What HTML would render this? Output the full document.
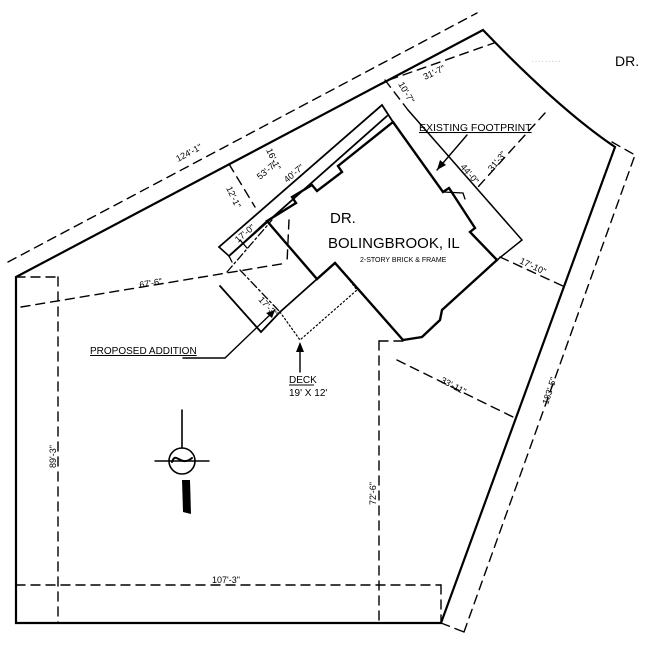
<!DOCTYPE html>
<html><head><meta charset="utf-8"><style>
html,body{margin:0;padding:0;background:#fff;}
svg{display:block;}
text{font-family:"Liberation Sans",sans-serif;fill:#000;}
</style></head><body>
<svg width="652" height="645" viewBox="0 0 652 645" xmlns="http://www.w3.org/2000/svg">
<g fill="none" stroke="#000" stroke-linecap="round">
<path d="M16,277 L483,30 Q560,110 615,147 L441,623 L16,623 Z" stroke-width="2.2"/>
<g stroke-width="1.4" stroke-dasharray="9,6">
<line x1="8" y1="262" x2="477" y2="13"/>
<line x1="21" y1="307" x2="287" y2="263"/>
<line x1="16" y1="277" x2="58" y2="277"/>
<line x1="58" y1="277" x2="58" y2="623"/>
<line x1="16" y1="585" x2="441" y2="585"/>
<line x1="441" y1="585" x2="441" y2="623"/>
<line x1="379" y1="341" x2="379" y2="623"/>
<line x1="379" y1="341" x2="405" y2="341"/>
<line x1="397" y1="360" x2="515" y2="418"/>
<line x1="464" y1="632" x2="635" y2="155"/>
<line x1="612" y1="142" x2="635" y2="155"/>
<line x1="441" y1="623" x2="464" y2="632"/>
<line x1="389" y1="80" x2="494" y2="43"/>
<line x1="545" y1="113" x2="477" y2="188"/>
<line x1="500" y1="257" x2="565" y2="287"/>
<line x1="289" y1="220" x2="287" y2="263"/>
<line x1="229" y1="164" x2="255" y2="207"/>
<line x1="385" y1="80" x2="408" y2="110"/>
</g>
<path d="M393,122 L443,192 L449,188 L475,228 L470,232 L497,260 L442,310 L440,320 L422,337 L403,340 L335,263 L317,279 L279,235 L267,221 L296,203 L292,197 L312,185 L317,191 L342,172 L338,166 L393,122" stroke-width="2.4"/>
<path d="M408,110 L522,240 L497,260" stroke-width="1.5"/>
<path d="M443,192 L463,193 L465,199" stroke-width="1.3"/>
<path d="M219,247 L382,105 L393,122" stroke-width="1.8"/>
<path d="M229,256 L387,116" stroke-width="1.8"/>
<path d="M219,247 L229,256 L267,221" stroke-width="1.6"/>
<path d="M229,256 L232,262 M240,240 L247,248" stroke-width="1.3"/>
<path d="M220,286 L261,332 L280,312" stroke-width="1.8"/>
<path d="M280,312 L317,279" stroke-width="1.8"/>
<path d="M227,272 L272,220 M240,270 L280,312" stroke-width="1.3" stroke-dasharray="8,3,2,3"/>
<path d="M280,312 L300,340 L357,290 L347,277" stroke-width="1.2" stroke-dasharray="1.5,2.5"/>
<path d="M183,358 L225,358 L275,310" stroke-width="1.4"/>
<path d="M300,372 L300,344" stroke-width="1.4"/>
<path d="M467,135 L437,170" stroke-width="1.4"/>
<circle cx="182" cy="461" r="13" stroke-width="1.6"/>
<line x1="155" y1="461" x2="209" y2="461" stroke-width="1.4"/>
<line x1="182" y1="410" x2="182" y2="448" stroke-width="1.6"/>
<path d="M172,462 C176,450 180,468 192,458" stroke-width="2"/>
</g>
<g fill="#000">
<polygon points="275,310 266,313 272,318"/>
<polygon points="300,342 296,352 304,352"/>
<polygon points="437,170 440,160 446,165"/>
<polygon points="182,480 190,480 191,514 183,512"/>
</g>
<g font-size="9">
<text transform="translate(178,162) rotate(-28)">124'-1"</text>
<text transform="translate(140,288) rotate(-10)">67'-6"</text>
<text transform="translate(260,180) rotate(-40)">53'-7"</text>
<text transform="translate(287,183) rotate(-40)">40'-7"</text>
<text transform="translate(238,243) rotate(-40)">17'-0"</text>
<text transform="translate(258,300) rotate(48)">17'-3"</text>
<text transform="translate(226,188) rotate(65)">12'-1"</text>
<text transform="translate(266,150) rotate(65)">16'-1"</text>
<text transform="translate(398,84) rotate(60)">10'-7"</text>
<text transform="translate(425,80) rotate(-25)">31'-7"</text>
<text transform="translate(460,167) rotate(50)">44'-0"</text>
<text transform="translate(492,172) rotate(-50)">31'-3"</text>
<text transform="translate(519,263) rotate(25)">17'-10"</text>
<text transform="translate(440,382) rotate(28)">33'-11"</text>
<text transform="translate(548,405) rotate(-72)">183'-5"</text>
<text transform="translate(376,505) rotate(-90)">72'-6"</text>
<text transform="translate(56,468) rotate(-90)">89'-3"</text>
<text x="212" y="583">107'-3"</text>
</g>
<text x="419" y="131" font-size="10.5" text-decoration="underline">EXISTING FOOTPRINT</text>
<text x="90" y="354" font-size="10" text-decoration="underline">PROPOSED ADDITION</text>
<text x="289" y="383" font-size="10">DECK</text>
<line x1="289" y1="385" x2="314" y2="385" stroke="#000" stroke-width="1"/>
<text x="289" y="396" font-size="10">19' X 12'</text>
<text x="615" y="66" font-size="14">DR.</text>
<text x="531" y="64" font-size="10" style="fill:#ccc">·········</text>
<text x="330" y="223" font-size="15">DR.</text>
<text x="328" y="248" font-size="15">BOLINGBROOK, IL</text>
<text x="360" y="262" font-size="7">2-STORY BRICK &amp; FRAME</text>
</svg>
</body></html>
